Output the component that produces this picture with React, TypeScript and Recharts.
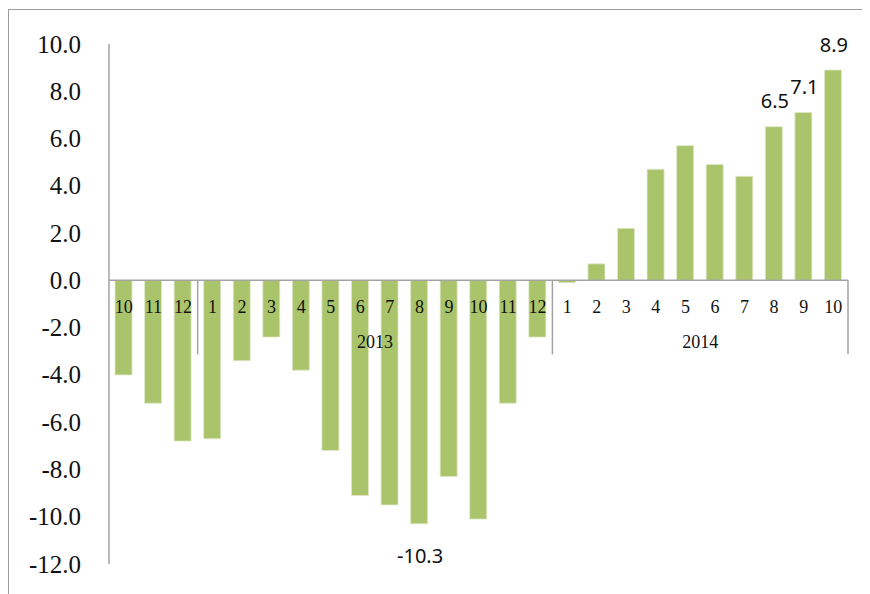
import React from 'react';
import { BarChart, Bar, XAxis, YAxis, ReferenceLine, LabelList } from 'recharts';

// month-on-month change, Oct 2012 – Oct 2014
const months2012 = ['10', '11', '12'];
const values2012 = [-4.0, -5.2, -6.8];

const months2013 = ['1', '2', '3', '4', '5', '6', '7', '8', '9', '10', '11', '12'];
const values2013 = [-6.7, -3.4, -2.4, -3.8, -7.2, -9.1, -9.5, -10.3, -8.3, -10.1, -5.2, -2.4];

const months2014 = ['1', '2', '3', '4', '5', '6', '7', '8', '9', '10'];
const values2014 = [-0.1, 0.7, 2.2, 4.7, 5.7, 4.9, 4.4, 6.5, 7.1, 8.9];

const yearGroups = [
  { year: '2012', label: '', months: months2012, values: values2012 },
  { year: '2013', label: '2013', months: months2013, values: values2013 },
  { year: '2014', label: '2014', months: months2014, values: values2014 },
];

// bars that carry a value label
const calloutKeys = ['2013-8', '2014-8', '2014-9', '2014-10'];

const yTicks = [-12, -10, -8, -6, -4, -2, 0, 2, 4, 6, 8, 10];
const Y_MIN = -12;
const Y_MAX = 10;

type Row = {
  key: string;
  month: string;
  value: number;
  callout?: number;
  groupIndex: number;
  posInGroup: number;
};

const data: Row[] = [];
yearGroups.forEach((g, gi) => {
  g.months.forEach((m, i) => {
    const key = `${g.year}-${m}`;
    data.push({
      key,
      month: m,
      value: g.values[i],
      callout: calloutKeys.includes(key) ? g.values[i] : undefined,
      groupIndex: gi,
      posInGroup: i,
    });
  });
});

const CHART_W = 861;
const CHART_H = 584;
const MARGIN = { top: 34, right: 22, bottom: 29, left: 0 };
const X_AXIS_H = 1;
const Y_AXIS_W = 100;
const PLOT_W = CHART_W - MARGIN.left - MARGIN.right - Y_AXIS_W;
const PLOT_H = CHART_H - MARGIN.top - MARGIN.bottom - X_AXIS_H;
const BAND = PLOT_W / data.length;
const ZERO_Y = MARGIN.top + (PLOT_H * Y_MAX) / (Y_MAX - Y_MIN);

const AXIS_GRAY = '#a3a3a3';
const BAR_GREEN = '#aac46b';
const SERIF = '"Liberation Serif", "DejaVu Serif", serif';

const MonthTick = (props: any) => {
  const { x, index } = props;
  const row = data[index];
  if (!row) return null;
  const group = yearGroups[row.groupIndex];
  const isFirst = row.posInGroup === 0;
  const isLast = index === data.length - 1;
  return (
    <g>
      <text
        x={x}
        y={ZERO_Y + 27}
        textAnchor="middle"
        dominantBaseline="central"
        fontFamily={SERIF}
        fontSize={18}
        fill="#111"
      >
        {row.month}
      </text>
      {isFirst && index > 0 && (
        <line x1={x - BAND / 2} x2={x - BAND / 2} y1={ZERO_Y} y2={ZERO_Y + 74} stroke={AXIS_GRAY} strokeWidth={1.5} />
      )}
      {isLast && (
        <line x1={x + BAND / 2} x2={x + BAND / 2} y1={ZERO_Y} y2={ZERO_Y + 74} stroke={AXIS_GRAY} strokeWidth={1.5} />
      )}
      {isFirst && group.label && (
        <text
          x={x + ((group.months.length - 1) / 2) * BAND}
          y={ZERO_Y + 62}
          textAnchor="middle"
          dominantBaseline="central"
          fontFamily={SERIF}
          fontSize={18}
          fill="#111"
        >
          {group.label}
        </text>
      )}
    </g>
  );
};

const ValueTick = (props: any) => {
  const { x, y, payload } = props;
  return (
    <text
      x={x - 26}
      y={y}
      textAnchor="end"
      dominantBaseline="central"
      fontFamily={SERIF}
      fontSize={25}
      fill="#111"
    >
      {Number(payload.value).toFixed(1)}
    </text>
  );
};

const Callout = (props: any) => {
  const { x, y, width, height, value } = props;
  if (value === undefined || value === null) return null;
  const top = Math.min(y, y + height);
  const bottom = Math.max(y, y + height);
  const cy = value >= 0 ? top - 26 : bottom + 32;
  return (
    <text
      x={x + width / 2 + 1}
      y={cy}
      textAnchor="middle"
      dominantBaseline="central"
      fontFamily='"Noto Sans", "Open Sans", sans-serif'
      fontSize={20}
      fill="#111"
    >
      {Number(value).toFixed(1)}
    </text>
  );
};

const App: React.FC = () => {
  return (
    <div
      style={{
        width: CHART_W,
        height: CHART_H,
        marginTop: 1,
        borderTop: '1px solid #9c9c9c',
        borderLeft: '1px solid #9c9c9c',
        background: '#fff',
      }}
    >
      <BarChart width={CHART_W} height={CHART_H} data={data} margin={MARGIN} barSize={17}>
        <XAxis
          dataKey="key"
          height={X_AXIS_H}
          interval={0}
          axisLine={false}
          tickLine={false}
          tick={(p: any) => <MonthTick {...p} />}
        />
        <YAxis
          width={Y_AXIS_W}
          domain={[Y_MIN, Y_MAX]}
          ticks={yTicks}
          interval={0}
          tickLine={false}
          tickSize={0}
          axisLine={{ stroke: AXIS_GRAY, strokeWidth: 1.5 }}
          tick={(p: any) => <ValueTick {...p} />}
        />
        <Bar dataKey="value" fill={BAR_GREEN} stroke="#dfe8c8" strokeWidth={0.8} isAnimationActive={false}>
          <LabelList dataKey="callout" content={<Callout />} />
        </Bar>
        <ReferenceLine y={0} stroke={AXIS_GRAY} strokeWidth={1.5} ifOverflow="extendDomain" />
      </BarChart>
    </div>
  );
};

export default App;
